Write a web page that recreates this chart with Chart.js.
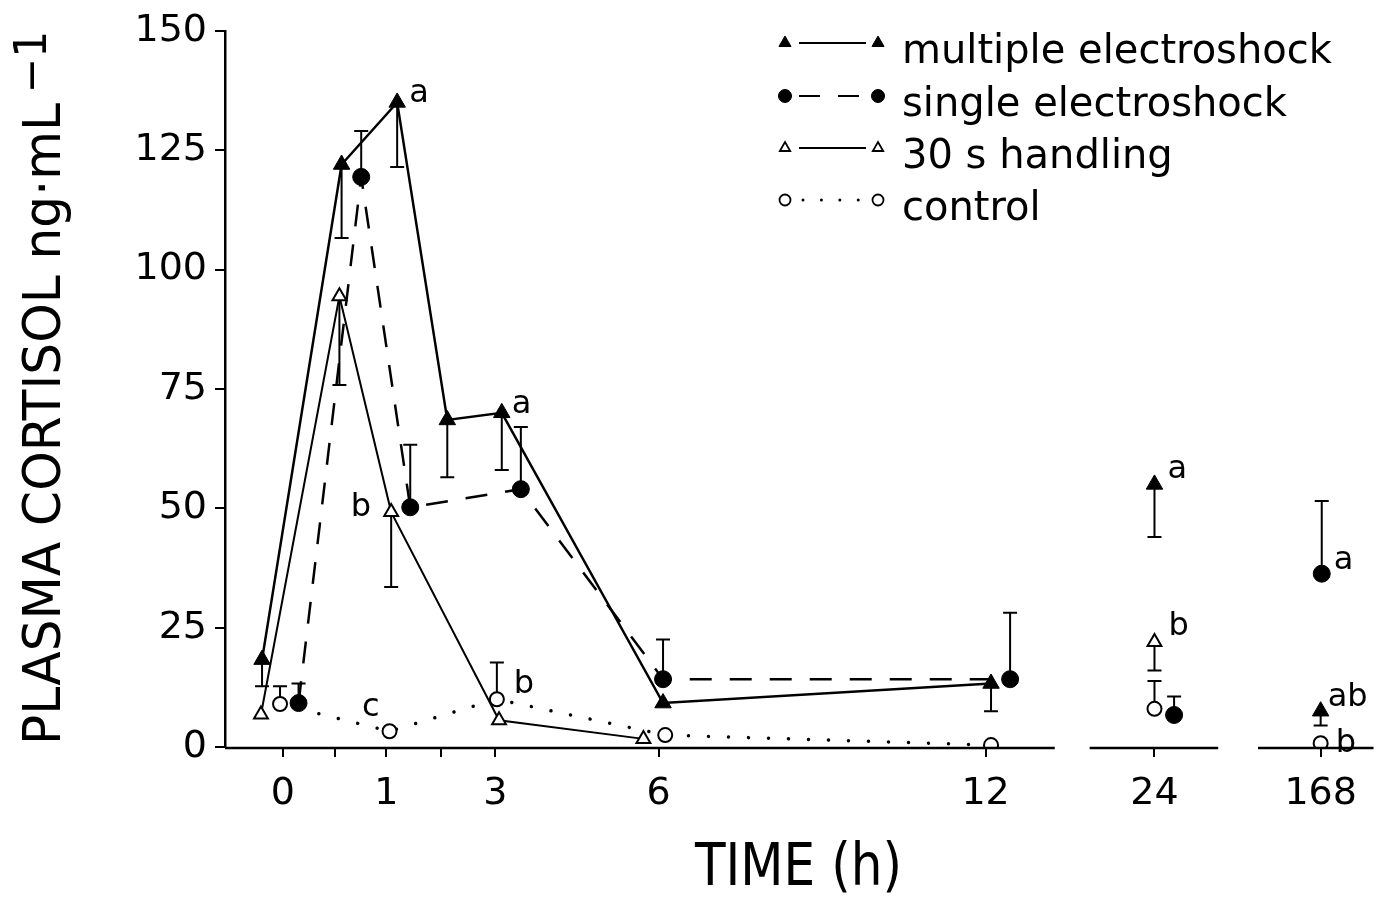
<!DOCTYPE html>
<html>
<head>
<meta charset="utf-8">
<title>Plasma cortisol</title>
<script src="https://cdn.jsdelivr.net/npm/chart.js@4.4.1/dist/chart.umd.min.js"></script>
<style>
  html, body { margin: 0; padding: 0; background: #fff; }
  canvas { display: block; }
</style>
</head>
<body>
<canvas id="cortisol-chart" width="1384" height="903"></canvas>
<script>
const FontFamily = '"DejaVu Sans", "Liberation Sans", sans-serif';

// readings taken off the figure (ng/mL), error = one SE
const seriesNames = ['multiple electroshock', 'single electroshock', '30 s handling', 'control'];

const multipleHours = [0, 0.5, 1, 2, 3, 6, 12, 24, 168];
const multipleCortisol = [18.3, 122, 135, 68.5, 70, 9.2, 13.3, 55, 7.5];
const multipleSE = [5.6, 15.4, 13.5, 12, 12, 0, 5.8, 11, 3];

const singleHours = [0, 0.5, 1, 3, 6, 12, 24, 168];
const singleCortisol = [9.2, 119.4, 50.2, 54, 14.2, 14.2, 6.7, 36.3];
const singleSE = [4.1, 9.6, 13.1, 13, 8.3, 13.9, 3.9, 15.2];

const handlingHours = [0, 0.5, 1, 3, 6, 24];
const handlingCortisol = [6.8, 94.4, 49.2, 5.6, 1.7, 22];
const handlingSE = [0, 18.6, 15.7, 0, 0, 6];

const controlHours = [0, 1, 3, 6, 12, 24, 168];
const controlCortisol = [9, 3.3, 10, 2.5, 0.4, 8, 0.8];
const controlSE = [3.7, 0, 7.7, 0, 0, 5.8, 0];

const tickHours = [0, 0.5, 1, 2, 3, 6, 12, 24, 168];
const labelledHours = [0, 1, 3, 6, 12, 24, 168];

// significance letters: [series index, hour, text]
const letterNotes = [
	[0, 1, 'a'], [0, 3, 'a'], [2, 1, 'b'], [3, 3, 'b'], [3, 1, 'c'],
	[0, 24, 'a'], [2, 24, 'b'], [1, 168, 'a'], [0, 168, 'ab'], [3, 168, 'b']
];

/**
 * ------------------------------------------------------------------------
 * 				AXIS LAYOUT
 * ------------------------------------------------------------------------
 */

// first hour is stretched, 24 h and 168 h sit on their own broken pieces
const BrokenSlots = { 24: 16, 168: 19.05 };
const hourToAxis = (h) => (h in BrokenSlots) ? BrokenSlots[h] : (h <= 1 ? 1.9 * h : h + 0.9);
const AxisPieces = [[-1.06, 14.17], [14.81, 17.17], [17.9, 20.02]];
const LineBreakAt = 14.5;

// small sideways nudges the original used to keep markers apart
const multipleShift = [-0.38, 0.13, 0.2, 0.12, 0.12, 0.08, 0.1, 0, 0];
const singleShift = [0.29, 0.49, 0.44, 0.47, 0.08, 0.45, 0.36, 0.02];
const handlingShift = [-0.4, 0.09, 0.09, 0.07, -0.28, 0];
const controlShift = [-0.05, 0.06, 0.03, 0.12, 0.1, 0, 0];

const LetterOffsets = [
	[12, 0, 'left'], [10, 0, 'left'], [-20, 4, 'right'], [17, -6, 'left'], [-10, -15, 'right'],
	[13, -6, 'left'], [14, -7, 'left'], [12, -5, 'left'], [7, -5, 'left'], [15, 9, 'left']
];

const SeriesStyles = [
	{ pointStyle: 'triangle', radius: 9.5, fill: '#000', dash: [], width: 2.5, cap: 'butt', errSide: -1, legendRadius: 7 },
	{ pointStyle: 'circle', radius: 8.5, fill: '#000', dash: [22, 18], width: 2.5, cap: 'butt', errSide: 1, legendRadius: 6.5 },
	{ pointStyle: 'triangle', radius: 8, fill: '#fff', dash: [], width: 2, cap: 'butt', errSide: -1, legendRadius: 6 },
	{ pointStyle: 'circle', radius: 7, fill: '#fff', dash: [0.01, 20], width: 3.5, cap: 'round', errSide: 1, legendRadius: 5.5 }
];

const buildPoints = (hours, values, errors, shifts) =>
	hours.map((h, i) => ({ x: hourToAxis(h) + shifts[i], y: values[i], se: errors[i] }));

const seriesPoints = [
	buildPoints(multipleHours, multipleCortisol, multipleSE, multipleShift),
	buildPoints(singleHours, singleCortisol, singleSE, singleShift),
	buildPoints(handlingHours, handlingCortisol, handlingSE, handlingShift),
	buildPoints(controlHours, controlCortisol, controlSE, controlShift)
];
const seriesHours = [multipleHours, singleHours, handlingHours, controlHours];

/**
 * ------------------------------------------------------------------------
 * 				PLUGINS
 * ------------------------------------------------------------------------
 */

const errorBars = {
	id: 'errorBars',
	beforeDatasetsDraw(chart) {
		const { ctx, scales: { x, y } } = chart;
		ctx.save();
		ctx.strokeStyle = '#000';
		ctx.lineWidth = 2;
		chart.data.datasets.forEach((ds, i) => {
			ds.data.forEach((p) => {
				if (!p.se) return;
				const px = x.getPixelForValue(p.x);
				const py = y.getPixelForValue(p.y);
				const ey = y.getPixelForValue(p.y + SeriesStyles[i].errSide * p.se);
				ctx.beginPath();
				ctx.moveTo(px, py);
				ctx.lineTo(px, ey);
				ctx.moveTo(px - 7, ey);
				ctx.lineTo(px + 7, ey);
				ctx.stroke();
			});
		});
		ctx.restore();
	}
};

const brokenAxis = {
	id: 'brokenAxis',
	afterDraw(chart) {
		const { ctx, scales: { x }, chartArea } = chart;
		ctx.save();
		ctx.strokeStyle = '#000';
		ctx.lineWidth = 2.5;
		AxisPieces.forEach(([a, b]) => {
			ctx.beginPath();
			ctx.moveTo(x.getPixelForValue(a), chartArea.bottom + 1);
			ctx.lineTo(x.getPixelForValue(b), chartArea.bottom + 1);
			ctx.stroke();
		});
		ctx.restore();
	}
};

const letterLabels = {
	id: 'letterLabels',
	afterDatasetsDraw(chart) {
		const { ctx } = chart;
		ctx.save();
		ctx.fillStyle = '#000';
		ctx.font = `32px ${FontFamily}`;
		ctx.textBaseline = 'alphabetic';
		letterNotes.forEach(([series, hour, text], i) => {
			const idx = seriesHours[series].indexOf(hour);
			const el = chart.getDatasetMeta(series).data[idx];
			const [dx, dy, align] = LetterOffsets[i];
			ctx.textAlign = align;
			ctx.fillText(text, el.x + dx, el.y + dy);
		});
		ctx.restore();
	}
};

const fitText = (ctx, text, width) => width / ctx.measureText(text).width;

const axisTitles = {
	id: 'axisTitles',
	afterDraw(chart) {
		const { ctx } = chart;
		ctx.save();
		ctx.fillStyle = '#000';
		ctx.textAlign = 'left';
		ctx.textBaseline = 'alphabetic';

		// y title, read bottom to top with a raised exponent
		const yTitle = 'PLASMA CORTISOL ng\u00b7mL';
		ctx.font = `52px ${FontFamily}`;
		const yScale = fitText(ctx, yTitle, 642);
		ctx.save();
		ctx.translate(60, 745);
		ctx.rotate(-Math.PI / 2);
		ctx.scale(yScale, 1);
		ctx.fillText(yTitle, 0, 0);
		const yWidth = ctx.measureText(yTitle).width;
		ctx.font = `44px ${FontFamily}`;
		ctx.fillText('\u22121', yWidth + 10, -14);
		ctx.restore();

		// x title
		const xTitle = 'TIME (h)';
		ctx.font = `58px ${FontFamily}`;
		const xScale = fitText(ctx, xTitle, 207);
		ctx.save();
		ctx.translate(695, 885);
		ctx.scale(xScale, 1);
		ctx.fillText(xTitle, 0, 0);
		ctx.restore();

		ctx.restore();
	}
};

const lineLegend = {
	id: 'lineLegend',
	afterDraw(chart) {
		const { ctx } = chart;
		const rows = [63, 116, 168, 220];
		ctx.save();
		seriesNames.forEach((name, i) => {
			const style = SeriesStyles[i];
			const my = rows[i] - 20;
			ctx.strokeStyle = '#000';
			ctx.lineWidth = style.width > 3 ? 3 : 2;
			ctx.lineCap = style.cap;
			ctx.setLineDash(style.dash.length ? (i === 3 ? [0.01, 18.4] : [21, 18]) : []);
			ctx.beginPath();
			ctx.moveTo(i === 3 ? 803 : 799, my);
			ctx.lineTo(i === 3 ? 860 : 866, my);
			ctx.stroke();
			ctx.setLineDash([]);
			ctx.lineCap = 'butt';
			[785, 878].forEach((mx) => {
				ctx.fillStyle = style.fill;
				ctx.strokeStyle = '#000';
				ctx.lineWidth = style.fill === '#000' ? 1 : 1.8;
				Chart.helpers.drawPoint(ctx, { pointStyle: style.pointStyle, radius: style.legendRadius, rotation: 0, borderWidth: ctx.lineWidth }, mx, my);
			});
			ctx.fillStyle = '#000';
			ctx.font = `40px ${FontFamily}`;
			ctx.textAlign = 'left';
			ctx.textBaseline = 'alphabetic';
			ctx.fillText(name, 902, rows[i]);
		});
		ctx.restore();
	}
};

/**
 * ------------------------------------------------------------------------
 * 				CHART
 * ------------------------------------------------------------------------
 */

const datasets = seriesPoints.map((points, i) => {
	const style = SeriesStyles[i];
	return {
		label: seriesNames[i],
		data: points,
		showLine: true,
		borderColor: '#000',
		borderWidth: style.width,
		borderDash: style.dash,
		borderCapStyle: style.cap,
		pointStyle: style.pointStyle,
		pointRadius: style.radius,
		pointBackgroundColor: style.fill,
		pointBorderColor: '#000',
		pointBorderWidth: style.fill === '#000' ? 1 : 2,
		tension: 0,
		segment: {
			borderColor: (c) => c.p1.parsed.x > LineBreakAt ? 'rgba(0,0,0,0)' : undefined
		}
	};
});

const tickLabelFor = (value) => {
	const hour = labelledHours.find((h) => Math.abs(hourToAxis(h) - value) < 1e-6);
	return hour === undefined ? '' : String(hour);
};

new Chart(document.getElementById('cortisol-chart').getContext('2d'), {
	type: 'scatter',
	data: { datasets },
	options: {
		responsive: false,
		animation: false,
		events: [],
		layout: { padding: { top: 27, right: 6, left: 0, bottom: 0 } },
		plugins: {
			legend: { display: false },
			tooltip: { enabled: false }
		},
		scales: {
			x: {
				type: 'linear',
				min: AxisPieces[0][0],
				max: AxisPieces[2][1],
				afterBuildTicks: (scale) => { scale.ticks = tickHours.map((h) => ({ value: hourToAxis(h) })); },
				afterFit: (scale) => { scale.height = 156; },
				border: { display: false },
				grid: { drawOnChartArea: false, drawTicks: true, tickLength: 10, color: '#000', lineWidth: 2 },
				ticks: {
					autoSkip: false,
					maxRotation: 0,
					padding: 14,
					color: '#000',
					font: { family: FontFamily, size: 38 },
					callback: (value) => tickLabelFor(value)
				}
			},
			y: {
				min: 0,
				max: 150,
				afterFit: (scale) => { scale.width = 225; },
				border: { display: true, color: '#000', width: 2.5 },
				grid: { drawOnChartArea: false, drawTicks: true, tickLength: 10, color: '#000', lineWidth: 2 },
				ticks: {
					stepSize: 25,
					padding: 8,
					color: '#000',
					font: { family: FontFamily, size: 38 }
				}
			}
		}
	},
	plugins: [errorBars, letterLabels, brokenAxis, axisTitles, lineLegend]
});
</script>
</body>
</html>
